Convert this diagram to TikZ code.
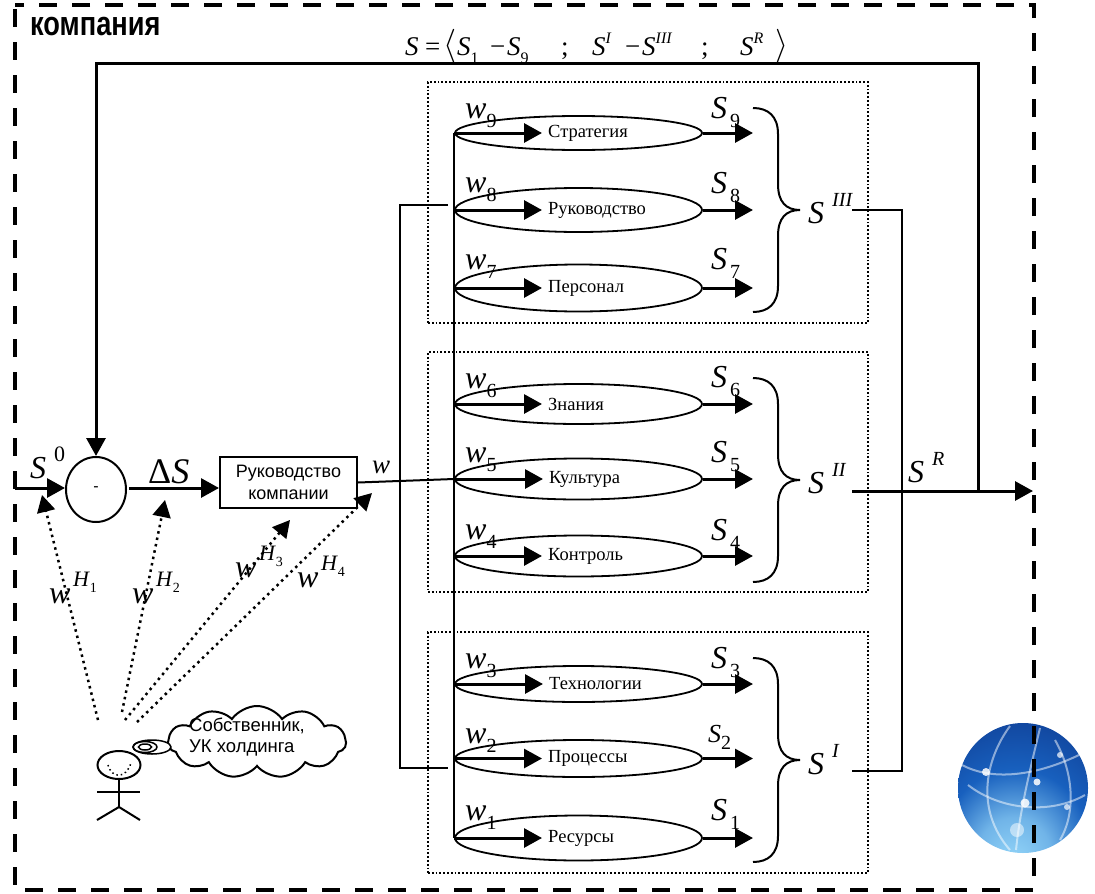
\documentclass[tikz,border=0pt]{standalone}
\usepackage{fontspec}
\setmainfont{Liberation Serif}
\setsansfont{Liberation Sans}
\usetikzlibrary{arrows.meta,shapes.geometric,shapes.symbols}
\definecolor{globedark}{RGB}{6,26,104}
\definecolor{globemid}{RGB}{24,96,190}
\definecolor{globelight}{RGB}{150,216,250}
\pgfdeclareradialshading{globeshade}{\pgfpoint{-4bp}{-30bp}}{color(0bp)=(globelight);color(14bp)=(globelight!70!globemid);color(28bp)=(globemid);color(55bp)=(globedark!70!globemid);color(72bp)=(globedark);color(90bp)=(globedark)}
\newcommand{\symsub}[2]{\textit{#1}\raisebox{-.3em}{\fontsize{20}{20}\selectfont #2}}
\newcommand{\capsub}[2]{\textit{#1}\hspace{3pt}\raisebox{-.3em}{\fontsize{20}{20}\selectfont #2}}
\newcommand{\symsup}[2]{\textit{#1}\hspace{8pt}\raisebox{.52em}{\fontsize{20}{20}\selectfont #2}}
\newcommand{\wsup}[1]{\textit{w}\hspace{2.5pt}\raisebox{.52em}{\fontsize{22}{22}\selectfont\textit{H}\raisebox{-.3em}{\fontsize{14}{14}\selectfont #1}}}
\newcommand{\fsub}[2]{\textit{#1}\raisebox{-.3em}{\fontsize{16}{16}\selectfont #2}}
\newcommand{\fsup}[2]{\textit{#1}\raisebox{.42em}{\fontsize{16}{16}\selectfont\textit{#2}}}
\newcommand{\drawbrace}[3]{\draw [bracepath] (753,#1) .. controls (768,#1) and (778,#1+8) .. (778,#1+26) -- (778,#2-26) .. controls (778,#2-8) and (786,#2) .. (800,#2) .. controls (786,#2) and (778,#2+8) .. (778,#2+26) -- (778,#3-26) .. controls (778,#3-8) and (768,#3) .. (753,#3);}
\tikzset{
	framedash/.style={line width=4.5pt,dash pattern=on 18pt off 15pt,dash phase=29pt},
	groupbox/.style={draw,line width=1.8pt,dash pattern=on 1.8pt off 2pt},
	funcell/.style={draw,ellipse,line width=1.8pt,minimum width=247pt,inner sep=0pt},
	funlabel/.style={anchor=west,inner sep=6pt,font=\fontsize{18.5}{20}\selectfont},
	sym/.style={anchor=base west,inner sep=0pt,font=\fontsize{32}{32}\selectfont},
	bigarrow/.style={-{Triangle[length=18pt,width=19pt]},line width=3pt},
	dotarrow/.style={-{Triangle[length=17pt,width=18pt]},line width=2.5pt,dash pattern=on 2.5pt off 4pt},
	thinline/.style={line width=2pt},
	bracepath/.style={line width=2pt},
	saytext/.style={align=left,inner sep=0pt,font=\sffamily\fontsize{18.5}{21}\selectfont}
}
\begin{document}
\begin{tikzpicture}[x=1pt,y=-1pt]
			\useasboundingbox (0,0) rectangle (1095,894);
			% globe
			\shade [shading=globeshade] (1023,788) circle (65);
			\begin{scope}
				\clip (1023,788) circle (65);
				\draw [white,opacity=0.5,line width=2pt] (962,765) .. controls (1000,785) and (1050,770) .. (1085,752);
				\draw [white,opacity=0.5,line width=2pt] (968,785) .. controls (1000,810) and (1050,815) .. (1085,795);
				\draw [white,opacity=0.5,line width=2pt] (1010,726) .. controls (985,760) and (975,810) .. (1010,850);
				\draw [white,opacity=0.5,line width=2pt] (1040,728) .. controls (1030,770) and (1020,810) .. (1016,850);
				\draw [white,opacity=0.5,line width=2pt] (1055,740) .. controls (1075,775) and (1075,815) .. (1060,840);
				\fill [white,opacity=0.85] (986,772) circle (4);
				\fill [white,opacity=0.85] (1025,803) circle (4.5);
				\fill [white,opacity=0.85] (1037,782) circle (3.5);
				\fill [white,opacity=0.7] (1060,755) circle (3);
				\fill [white,opacity=0.7] (1067,807) circle (3);
				\fill [white,opacity=0.5] (1017,830) circle (7);
			\end{scope}
			\draw [framedash] (15,5) rectangle (1034,890);
			\node (title) [anchor=base west,inner sep=0pt,font=\sffamily\bfseries\fontsize{34}{34}\selectfont] at (30,35) {\scalebox{0.8}[1]{компания}};
			\node (formula) [anchor=base west,inner sep=0pt,font=\fontsize{27}{27}\selectfont] at (405,55) {\makebox[20pt][l]{\textit{S}}\makebox[18pt][l]{=}\makebox[14pt][l]{\raisebox{1pt}[0pt][0pt]{\scalebox{1.35}{$\Bigg\langle$}}}\makebox[33pt][l]{\fsub{S}{1}}\makebox[17pt][l]{−}\makebox[54pt][l]{\fsub{S}{9}}\makebox[31pt][l]{;}\makebox[33pt][l]{\fsup{S}{I}}\makebox[17pt][l]{−}\makebox[59pt][l]{\fsup{S}{III}}\makebox[39pt][l]{;}\makebox[35pt][l]{\fsup{S}{R}}\raisebox{1pt}[0pt][0pt]{\scalebox{1.35}{$\Bigg\rangle$}}};
			% groups
			\node (g3) [groupbox,inner sep=0pt,minimum width=440pt,minimum height=241pt] at (648,202.5) {};
			\node (g2) [groupbox,inner sep=0pt,minimum width=440pt,minimum height=240pt] at (648,472) {};
			\node (g1) [groupbox,inner sep=0pt,minimum width=440pt,minimum height=241pt] at (648,752.5) {};
			% functions
			\node (e9) [funcell,minimum height=34pt] at (578.5,133) {};
			\node (e8) [funcell,minimum height=44pt] at (578.5,210) {};
			\node (e7) [funcell,minimum height=47pt] at (578.5,288) {};
			\node (e6) [funcell,minimum height=40pt] at (578.5,404) {};
			\node (e5) [funcell,minimum height=41pt] at (578.5,479) {};
			\node (e4) [funcell,minimum height=41pt] at (578.5,556) {};
			\node (e3) [funcell,minimum height=36pt] at (578.5,684) {};
			\node (e2) [funcell,minimum height=37pt] at (578.5,758.5) {};
			\node (e1) [funcell,minimum height=45pt] at (578.5,838) {};
			\node (l9) [funlabel] at (542,133) {Стратегия};
			\node (l8) [funlabel] at (542,210) {Руководство};
			\node (l7) [funlabel] at (542,288) {Персонал};
			\node (l6) [funlabel] at (542,404) {Знания};
			\node (l5) [funlabel] at (543,479) {Культура};
			\node (l4) [funlabel] at (542,556) {Контроль};
			\node (l3) [funlabel] at (543,684) {Технологии};
			\node (l2) [funlabel] at (542,758.5) {Процессы};
			\node (l1) [funlabel] at (542,838) {Ресурсы};
			% output ends
			\coordinate (o9) at (753,133);
			\coordinate (o8) at (753,210);
			\coordinate (o7) at (753,288);
			\coordinate (o6) at (753,404);
			\coordinate (o5) at (753,479);
			\coordinate (o4) at (753,556);
			\coordinate (o3) at (753,684);
			\coordinate (o2) at (753,758.5);
			\coordinate (o1) at (753,838);
			\draw [bigarrow] (e9.west) -- (l9.west);
			\draw [bigarrow] (e8.west) -- (l8.west);
			\draw [bigarrow] (e7.west) -- (l7.west);
			\draw [bigarrow] (e6.west) -- (l6.west);
			\draw [bigarrow] (e5.west) -- (l5.west);
			\draw [bigarrow] (e4.west) -- (l4.west);
			\draw [bigarrow] (e3.west) -- (l3.west);
			\draw [bigarrow] (e2.west) -- (l2.west);
			\draw [bigarrow] (e1.west) -- (l1.west);
			\draw [bigarrow] (e9.east) -- (o9);
			\draw [bigarrow] (e8.east) -- (o8);
			\draw [bigarrow] (e7.east) -- (o7);
			\draw [bigarrow] (e6.east) -- (o6);
			\draw [bigarrow] (e5.east) -- (o5);
			\draw [bigarrow] (e4.east) -- (o4);
			\draw [bigarrow] (e3.east) -- (o3);
			\draw [bigarrow] (e2.east) -- (o2);
			\draw [bigarrow] (e1.east) -- (o1);
			\draw [thinline] (e9.west) -- (e1.west);
			\node (w9) [sym] at (465,118) {\symsub{w}{9}};
			\node (w8) [sym] at (465,192) {\symsub{w}{8}};
			\node (w7) [sym] at (465,269) {\symsub{w}{7}};
			\node (w6) [sym] at (465,388) {\symsub{w}{6}};
			\node (w5) [sym] at (465,462) {\symsub{w}{5}};
			\node (w4) [sym] at (465,539) {\symsub{w}{4}};
			\node (w3) [sym] at (465,668) {\symsub{w}{3}};
			\node (w2) [sym] at (465,743) {\symsub{w}{2}};
			\node (w1) [sym] at (465,820) {\symsub{w}{1}};
			\node (s9) [sym] at (711,118) {\capsub{S}{9}};
			\node (s8) [sym] at (711,193) {\capsub{S}{8}};
			\node (s7) [sym] at (711,269) {\capsub{S}{7}};
			\node (s6) [sym] at (711,387) {\capsub{S}{6}};
			\node (s5) [sym] at (711,462) {\capsub{S}{5}};
			\node (s4) [sym] at (711,540) {\capsub{S}{4}};
			\node (s3) [sym] at (711,668) {\capsub{S}{3}};
			\node (s2) [sym,font=\fontsize{26}{26}\selectfont] at (708,742) {\symsub{S}{2}};
			\node (s1) [sym] at (711,820) {\capsub{S}{1}};
			\drawbrace{108}{210}{312}
			\drawbrace{378}{480}{582}
			\drawbrace{658}{760}{862}
			\node (siii) [sym] at (808,223) {\symsup{S}{\textit{III}}};
			\node (sii) [sym] at (808,493) {\symsup{S}{\textit{II}}};
			\node (si) [sym] at (808,774) {\symsup{S}{\textit{I}}};
			\node (sr) [sym] at (908,482) {\symsup{S}{\textit{R}}};
			% right collector
			\coordinate (c3) at (852,210);
			\coordinate (c1) at (852,771);
			\coordinate (c3r) at (902,210);
			\coordinate (c1r) at (902,771);
			\coordinate (c2) at (852,491);
			\coordinate (out) at (1033,491);
			\coordinate (jr) at (978,491);
			\coordinate (topr) at (978,63);
			\coordinate (topl) at (96,63);
			\draw [thinline] (c3) -- (c3r) -- (c1r) -- (c1);
			\draw [bigarrow] (c2) -- (out);
			% left part
			\node (diff) [draw,ellipse,line width=2pt,minimum width=60pt,minimum height=65pt,inner sep=0pt,font=\sffamily\fontsize{16}{16}\selectfont] at (96,489.5) {-};
			\node (ctrl) [draw,line width=2pt,minimum width=137pt,minimum height=51pt,inner sep=0pt,align=center,font=\sffamily\fontsize{18}{22}\selectfont] at (288.5,482.5) {Руководство\\компании};
			\coordinate (in) at (15,488);
			\coordinate (ds) at (129,488);
			\draw [bigarrow] (jr) -- (topr) -- (topl) -- (diff.north);
			\draw [bigarrow] (in) -- (in -| diff.west);
			\draw [bigarrow] (ds) -- (ds -| ctrl.west);
			\draw [thinline] (ctrl.east) -- (e5.west);
			\coordinate (b8) at (448,205);
			\coordinate (b8l) at (400,205);
			\coordinate (b2l) at (400,768);
			\coordinate (b2) at (448,768);
			\draw [thinline] (b8) -- (b8l) -- (b2l) -- (b2);
			\node (s0) [sym] at (30,478) {\symsup{S}{\fontsize{22}{22}\selectfont 0}};
			\node (delta) [sym,font=\fontsize{36}{36}\selectfont] at (148,483) {Δ\textit{S}};
			\node (w) [sym,font=\fontsize{27}{27}\selectfont] at (372,473) {\textit{w}};
			\node (wh1) [sym] at (49,603) {\wsup{1}};
			\node (wh2) [sym] at (132,603) {\wsup{2}};
			\node (wh3) [sym] at (235,577) {\wsup{3}};
			\node (wh4) [sym] at (297,587) {\wsup{4}};
			% owner
			\coordinate (p1) at (98,720);
			\coordinate (p2) at (122,712);
			\coordinate (p3) at (125,720);
			\coordinate (p4) at (137,722);
			\coordinate (t1) at (42,495);
			\coordinate (t2) at (165,500);
			\coordinate (t3) at (290,520);
			\coordinate (t4) at (372,493);
			\draw [dotarrow] (p1) -- (t1);
			\draw [dotarrow] (p2) -- (t2);
			\draw [dotarrow] (p3) -- (t3);
			\draw [dotarrow] (p4) -- (t4);
			\node (head) [draw,ellipse,line width=2pt,minimum width=43pt,minimum height=28pt,inner sep=0pt] at (119,765) {};
			\coordinate (hip) at (119,807);
			\coordinate (arml) at (97,792);
			\coordinate (armr) at (140,792);
			\coordinate (legl) at (97,820);
			\coordinate (legr) at (140,820);
			\draw [thinline] (head.south) -- (hip);
			\draw [thinline] (arml) -- (armr);
			\draw [thinline] (legl) -- (hip) -- (legr);
			\draw [line width=1.5pt,dash pattern=on 1.5pt off 3pt] (108,765) .. controls (112,779) and (126,779) .. (131,763);
			\node (cloud) [draw,cloud,cloud puffs=11,cloud puff arc=110,cloud ignores aspect,line width=2pt,minimum width=178pt,minimum height=72pt,inner sep=0pt] at (257,742) {};
			\node (say) [saytext] at (247,737) {Собственник,\\УК холдинга};
			\node (eye1) [draw,ellipse,fill=white,line width=1.5pt,minimum width=38pt,minimum height=14pt,inner sep=0pt] at (152,747) {};
			\node (eye2) [draw,ellipse,line width=1.5pt,minimum width=24pt,minimum height=11pt,inner sep=0pt] at (145,747) {};
			\node (eye3) [draw,ellipse,line width=1.5pt,minimum width=13pt,minimum height=6pt,inner sep=0pt] at (145,747) {};
		\end{tikzpicture}
\end{document}
